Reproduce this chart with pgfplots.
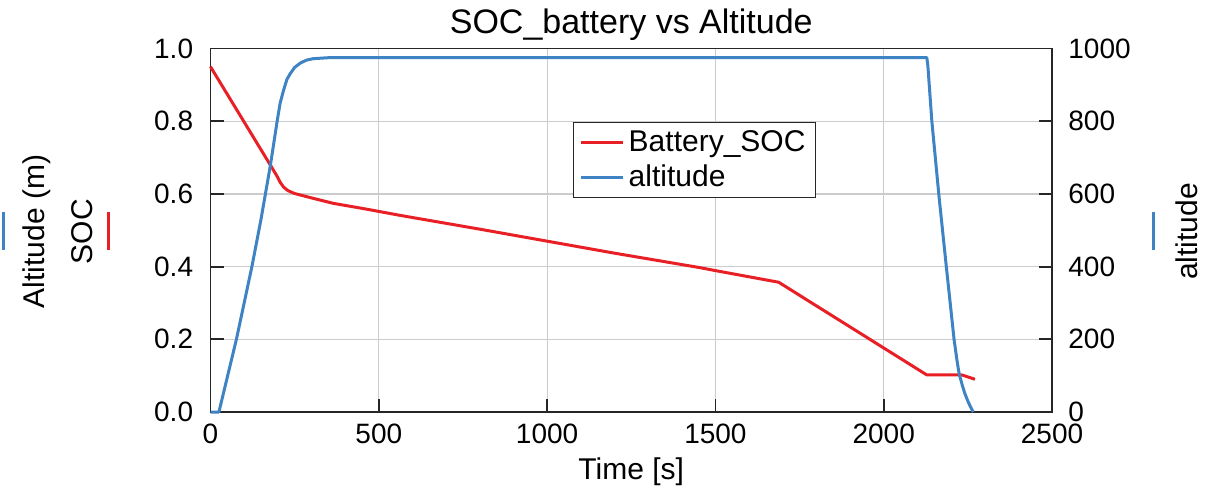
\documentclass[border=0pt]{standalone}
\usepackage{fontspec}
\setmainfont{Liberation Sans}
\usepackage{pgfplots}
\pgfplotsset{compat=1.18}

\definecolor{socred}{RGB}{232,32,38}
\definecolor{altblue}{RGB}{62,131,195}
\definecolor{gridgray}{RGB}{204,204,204}
\definecolor{axisgray}{RGB}{38,38,38}

\newcommand{\tickfont}{\fontsize{14}{16}\selectfont}
\newcommand{\labelfont}{\fontsize{15}{17}\selectfont}
\newcommand{\titlefont}{\fontsize{17}{19}\selectfont}

\pgfplotsset{
  common/.style={
    scale only axis,
    width=420.75pt, height=181.75pt,
    at={(0,0)}, anchor=south west,
    xmin=0, xmax=2500,
    clip=false,
    tick align=inside,
    major tick length=6.5pt,
    axis line style={axisgray, line width=0.9pt},
    every tick/.style={axisgray, line width=0.9pt},
    tick label style={font=\tickfont},
    /pgf/number format/assume math mode=true,
    /pgf/number format/1000 sep={},
  },
}

\begin{document}
\begin{tikzpicture}
% SOC on the left axis, with the grid and the frame
\begin{axis}[common, name=soc,
  ymin=0, ymax=1,
  xtick={0,500,1000,1500,2000,2500},
  ytick={0,0.2,0.4,0.6,0.8,1},
  xtick pos=bottom, ytick pos=left,
  grid=major,
  major grid style={gridgray, line width=0.6pt},
  yticklabel style={anchor=east, inner sep=0pt, xshift=-8.5pt,
    /pgf/number format/.cd, fixed, fixed zerofill, precision=1},
  xticklabel style={anchor=base, inner sep=0pt, yshift=-15.5pt},
  xlabel={Time [s]},
  xlabel style={at={(axis description cs:0.5,0)}, anchor=base,
    inner sep=0pt, yshift=-33.5pt, font=\labelfont},
]
\addplot[socred, line width=1.5pt, line join=round] coordinates {
  (0,0.950) (178,0.679) (197,0.650) (207,0.632) (217,0.619) (230,0.609)
  (250,0.601) (267,0.597) (300,0.589) (365,0.574) (464,0.558) (563,0.541)
  (800,0.503) (1000,0.470) (1200,0.437) (1455,0.397) (1500,0.389)
  (1688,0.357) (2128,0.102) (2232,0.102) (2271,0.090)
};
\end{axis}

% altitude on the right axis
\begin{axis}[common, name=alt,
  ymin=0, ymax=1000,
  ytick={0,200,400,600,800,1000},
  hide x axis,
  axis y line*=right,
  yticklabel style={anchor=west, inner sep=0pt, xshift=8pt},
  legend style={at={(0.4308,0.7978)}, anchor=north west,
    draw=axisgray, line width=0.7pt, fill=white,
    font=\labelfont, inner xsep=3pt, inner ysep=2pt,
    row sep=1pt},
  legend cell align=left,
  legend image code/.code={\draw[#1] (0pt,0pt) -- (21pt,0pt);},
]
\addlegendimage{socred, line width=1.5pt}
\addlegendentry{Battery\_SOC}
\addplot[altblue, line width=1.5pt, line join=round] coordinates {
  (0,0) (25,0) (77,200) (123,400) (150,530) (178,679) (198,800)
  (207,850) (217,885) (227,915) (237,931) (250,948) (267,960)
  (285,968) (305,972) (355,975) (2128,975) (2131,955) (2143,800)
  (2164,596) (2186,400) (2209,200) (2218,140) (2224,106) (2233,75)
  (2241,51) (2250,30) (2258,14) (2266,0)
};
\addlegendentry{altitude}
\end{axis}

% titles and the coloured markers beside the axis names
\begin{scope}[shift={(soc.south west)}]
  \node[font=\titlefont, anchor=base, inner sep=0pt] at (210.375pt,189.5pt)
    {SOC\_battery vs Altitude};
  \draw[altblue, line width=1.5pt] (-103.25pt,81pt) -- (-103.25pt,100.15pt);
  \node[font=\labelfont, rotate=90, inner sep=0pt] at (-86.9pt,90.2pt)
    {Altitude (m)};
  \node[font=\labelfont, rotate=90, inner sep=0pt] at (-64.4pt,90.2pt)
    {SOC};
  \draw[socred, line width=1.5pt] (-51.1pt,81pt) -- (-51.1pt,100.15pt);
  \draw[altblue, line width=1.5pt] (471.4pt,81pt) -- (471.4pt,100.15pt);
  \node[font=\labelfont, rotate=90, inner sep=0pt] at (488.1pt,90.2pt)
    {altitude};
  \pgfresetboundingbox
  \path[use as bounding box] (-105.25pt,-41.5pt) rectangle (507.25pt,206pt);
\end{scope}
\end{tikzpicture}
\end{document}
